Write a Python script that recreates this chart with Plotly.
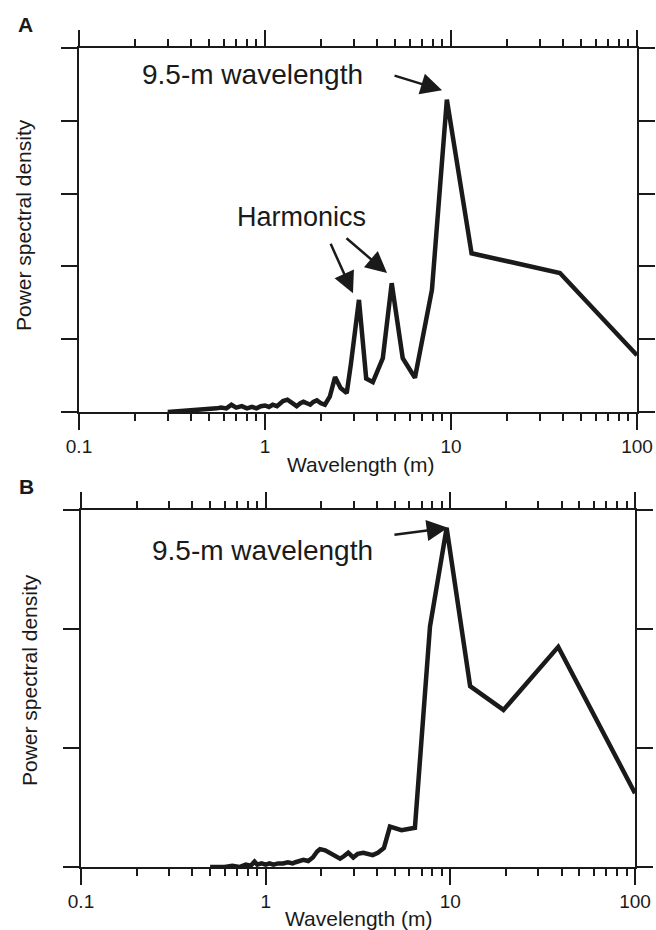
import plotly.graph_objects as go

# ---- Data ----
wavelength_a = [0.3, 0.35, 0.4, 0.45, 0.5, 0.55, 0.58, 0.62, 0.66, 0.7, 0.75, 0.8, 0.85, 0.9, 0.95,
                1.0, 1.05, 1.1, 1.16, 1.25, 1.32, 1.4, 1.48, 1.55, 1.61, 1.68, 1.75, 1.82, 1.9, 2.0,
                2.1, 2.23, 2.38, 2.55, 2.75, 2.9, 3.2, 3.5, 3.8, 4.3, 4.8, 5.5, 6.4, 7.9, 9.5,
                12.9, 38.5, 100]
psd_a = [0.0, 0.01, 0.02, 0.03, 0.04, 0.05, 0.06, 0.05, 0.1, 0.06, 0.08, 0.05, 0.07, 0.05, 0.08,
         0.09, 0.07, 0.1, 0.08, 0.15, 0.17, 0.12, 0.08, 0.12, 0.14, 0.12, 0.1, 0.14, 0.16, 0.12,
         0.1, 0.21, 0.48, 0.33, 0.26, 0.67, 1.54, 0.46, 0.41, 0.74, 1.77, 0.74, 0.47, 1.68, 4.29,
         2.18, 1.91, 0.78]

wavelength_b = [0.5, 0.6, 0.66, 0.72, 0.78, 0.83, 0.87, 0.9, 0.95, 1.0, 1.05, 1.1, 1.17, 1.24,
                1.32, 1.4, 1.45, 1.53, 1.6, 1.7, 1.8, 1.9, 1.97, 2.1, 2.23, 2.38, 2.53, 2.65, 2.8,
                2.98, 3.15, 3.38, 3.6, 3.8, 4.05, 4.37, 4.71, 5.44, 6.43, 7.76, 9.55, 12.8, 19.4,
                38.4, 100]
psd_b = [0.0, 0.0, 0.01, 0.0, 0.02, 0.01, 0.045, 0.02, 0.03, 0.02, 0.03, 0.02, 0.03, 0.03,
         0.04, 0.03, 0.04, 0.05, 0.06, 0.05, 0.08, 0.13, 0.15, 0.14, 0.12, 0.1, 0.07, 0.09, 0.12,
         0.08, 0.11, 0.12, 0.11, 0.1, 0.12, 0.16, 0.34, 0.31, 0.33, 2.02, 2.85, 1.52, 1.32,
         1.85, 0.62]

major_ticks = [0.1, 1, 10, 100]
major_labels = ["0.1", "1", "10", "100"]
minor_ticks = [m * d for d in (0.1, 1, 10) for m in range(2, 10)]
yticks_a = [0, 1, 2, 3, 4, 5]
yticks_b = [0, 1, 2, 3]

W, H = 656, 930
FONT = "Liberation Sans, Arial, Helvetica, sans-serif"
INK = "#1a1a1a"


def px(x):
    return x / W


def py(y):
    return 1 - y / H


fig = go.Figure()
fig.add_trace(go.Scatter(x=wavelength_a, y=psd_a, mode="lines",
                         line=dict(color=INK, width=4.5), xaxis="x", yaxis="y",
                         showlegend=False, cliponaxis=False))
fig.add_trace(go.Scatter(x=wavelength_b, y=psd_b, mode="lines",
                         line=dict(color=INK, width=4.5), xaxis="x2", yaxis="y2",
                         showlegend=False, cliponaxis=False))


def xaxis_cfg(domain, anchor):
    return dict(type="log", range=[-1, 2], domain=domain, anchor=anchor,
                showline=True, linecolor=INK, linewidth=2, mirror="allticks",
                ticks="outside", ticklen=16, tickwidth=2, tickcolor=INK,
                tickvals=major_ticks, ticktext=major_labels,
                tickfont=dict(family=FONT, size=19, color=INK),
                minor=dict(ticks="outside", ticklen=7, tickwidth=1.5, tickcolor=INK,
                           tickvals=minor_ticks, showgrid=False),
                showgrid=False, zeroline=False, automargin=False)


def yaxis_cfg(domain, anchor, rng, tv):
    return dict(range=rng, domain=domain, anchor=anchor,
                showline=True, linecolor=INK, linewidth=2, mirror="allticks",
                ticks="outside", ticklen=16, tickwidth=2, tickcolor=INK,
                tickvals=tv, showticklabels=False,
                showgrid=False, zeroline=False, automargin=False)


fig.update_layout(
    width=W, height=H,
    margin=dict(l=0, r=0, t=0, b=0),
    paper_bgcolor="white", plot_bgcolor="white",
    xaxis=xaxis_cfg([px(79), px(637)], "y"),
    yaxis=yaxis_cfg([py(412), py(48)], "x", [0, 5], yticks_a),
    xaxis2=xaxis_cfg([px(81), px(635)], "y2"),
    yaxis2=yaxis_cfg([py(867), py(510)], "x2", [0, 3], yticks_b),
)

ann = []


def text(x, y, s, size, bold=False, angle=0):
    ann.append(dict(x=px(x), y=py(y), xref="paper", yref="paper", text=("<b>%s</b>" % s) if bold else s,
                    showarrow=False, xanchor="center", yanchor="middle", textangle=angle,
                    font=dict(family=FONT, size=size, color=INK)))


text(25, 25, "A", 21, bold=True)
text(26, 486, "B", 21, bold=True)
text(23, 225, "Power spectral density", 21, angle=-90)
text(29, 680, "Power spectral density", 21, angle=-90)
text(360, 464, "Wavelength (m)", 21)
text(358, 918, "Wavelength (m)", 21)
text(252, 74, "9.5-m wavelength", 28)
text(301, 217, "Harmonics", 27)
text(262, 550, "9.5-m wavelength", 28)


def arrow(xa, ya, xlog, yval, ax, ay):
    ann.append(dict(x=xlog, y=yval, xref=xa, yref=ya, ax=ax, ay=ay, axref="pixel", ayref="pixel",
                    showarrow=True, arrowhead=2, arrowsize=1.7, arrowwidth=2.5, arrowcolor=INK,
                    standoff=0, text=""))


arrow("x", "y", 0.952, 4.42, -49, -15)
arrow("x", "y", 0.473, 1.63, -23, -51)
arrow("x", "y", 0.656, 1.91, -42, -36)
arrow("x2", "y2", 0.987, 2.85, -55, 7)

fig.update_layout(annotations=ann)
fig.write_html("out.html", config={"displayModeBar": False},
               post_script="document.body.style.margin='0';document.body.style.overflow='hidden';")
